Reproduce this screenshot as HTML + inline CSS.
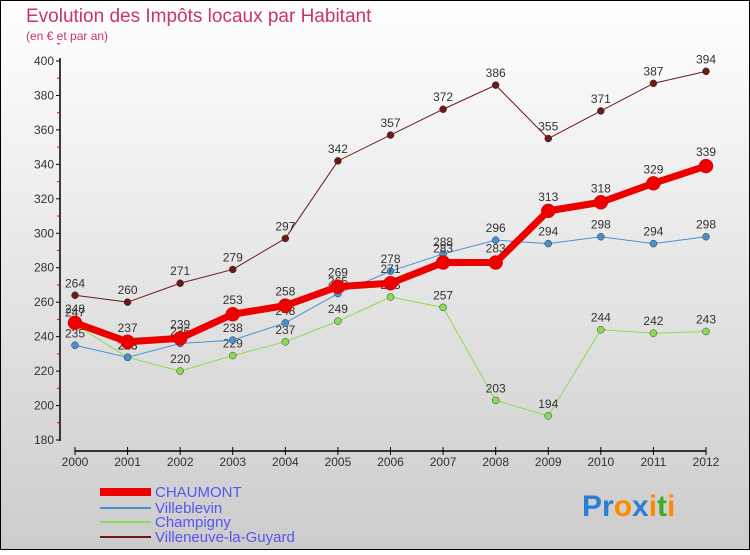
<!DOCTYPE html>
<html><head><meta charset="utf-8"><style>
body{margin:0}
#c{width:750px;height:550px;position:relative;font-family:"Liberation Sans",sans-serif}
</style></head><body>
<div id="c">
<svg id="s" width="750" height="550" xmlns="http://www.w3.org/2000/svg">
<defs><linearGradient id="bg" x1="0" y1="0" x2="0" y2="1"><stop offset="0" stop-color="#ffffff"/><stop offset="1" stop-color="#cccccc"/></linearGradient></defs>
<rect x="0.5" y="0.5" width="749" height="549" fill="url(#bg)" stroke="#000"/>
<text x="26" y="22" font-size="19" fill="#cc3366">Evolution des Impôts locaux par Habitant</text>
<text x="26" y="40" font-size="12" fill="#cc3366">(en € et par an)</text>
<g id="axes"></g><g id="series"></g><g id="legend"></g>
<text x="582" y="516" font-size="30" font-weight="bold"><tspan fill="#2a7fd4">Pr</tspan><tspan fill="#ff8a00">o</tspan><tspan fill="#2a7fd4">x</tspan><tspan fill="#ff8a00">i</tspan><tspan fill="#44aa22">t</tspan><tspan fill="#ff8a00">i</tspan></text>
</svg></div>
<script>
const years=["2000","2001","2002","2003","2004","2005","2006","2007","2008","2009","2010","2011","2012"];
const yTicks=[180,200,220,240,260,280,300,320,340,360,380,400];
const chaumont=[248,237,239,253,258,269,271,283,283,313,318,329,339];
const villeblevin=[235,228,236,238,248,265,278,288,296,294,298,294,298];
const champigny=[247,228,220,229,237,249,263,257,203,194,244,242,243];
const villeneuve=[264,260,271,279,297,342,357,372,386,355,371,387,394];
const NS="http://www.w3.org/2000/svg";
const X=i=>75+i*(706-75)/12;
const Y=v=>440-(v-180)*(440-61)/220;
function mk(t,a,p){const e=document.createElementNS(NS,t);for(const k in a)e.setAttribute(k,a[k]);p.appendChild(e);return e;}
const ax=document.getElementById('axes');
let yl=mk('line',{x1:60,y1:58,x2:60,y2:441,stroke:'#000','stroke-width':1.5},ax);


yTicks.forEach(v=>{mk('line',{x1:56,y1:Y(v),x2:60,y2:Y(v),stroke:'#000'},ax);
 mk('line',{x1:57,y1:Y(v+10),x2:60,y2:Y(v+10),stroke:'#e00'},ax);
 const t=mk('text',{x:54,y:Y(v)+4,'font-size':12,fill:'#333','text-anchor':'end'},ax);t.textContent=v;
 
 });
let xl=mk('line',{x1:75,y1:451,x2:706,y2:451,stroke:'#000','stroke-width':1.5},ax);


years.forEach((y,i)=>{mk('line',{x1:X(i),y1:447,x2:X(i),y2:455,stroke:'#000'},ax);
 const t=mk('text',{x:X(i),y:466,'font-size':12,fill:'#333','text-anchor':'middle'},ax);t.textContent=y;
 
 });
const sg=document.getElementById('series');
const defs=[[villeneuve,'#6b1a1a',1,3.5,'villeneuve'],[champigny,'#88dd55',1,3.5,'champigny'],[villeblevin,'#4a90d0',1,3.5,'villeblevin'],[chaumont,'#ee0000',7,7,'chaumont']];
defs.forEach(([d,c,w,r,n])=>{
 const g=mk('g',{},sg);
 
 
 mk('polyline',{points:d.map((v,i)=>X(i)+','+Y(v)).join(' '),fill:'none',stroke:c,'stroke-width':w,'stroke-linejoin':'round'},g);
 d.forEach((v,i)=>{const p=mk('circle',{cx:X(i),cy:Y(v),r:r,fill:c,stroke:n==='chaumont'?'#cc0000':'#333','stroke-width':0.5},g);
  
  
  const t=mk('text',{x:X(i),y:Y(v)-(n==='chaumont'?10:8),'font-size':12,fill:'#333','text-anchor':'middle'},g);t.textContent=v;
  
  });
});
const lg=document.getElementById('legend');
[['CHAUMONT','#ee0000',8,492],['Villeblevin','#4a90d0',2,508],['Champigny','#88dd55',2,522],['Villeneuve-la-Guyard','#6b1a1a',2,537]].forEach(([n,c,w,y])=>{
 const g=mk('g',{},lg);
 
 
 mk('line',{x1:100,y1:y,x2:151,y2:y,stroke:c,'stroke-width':w},g);
 const t=mk('text',{x:155,y:y+5,'font-size':15,fill:'#5555ee'},g);t.textContent=n;
});
</script>
</body></html>
